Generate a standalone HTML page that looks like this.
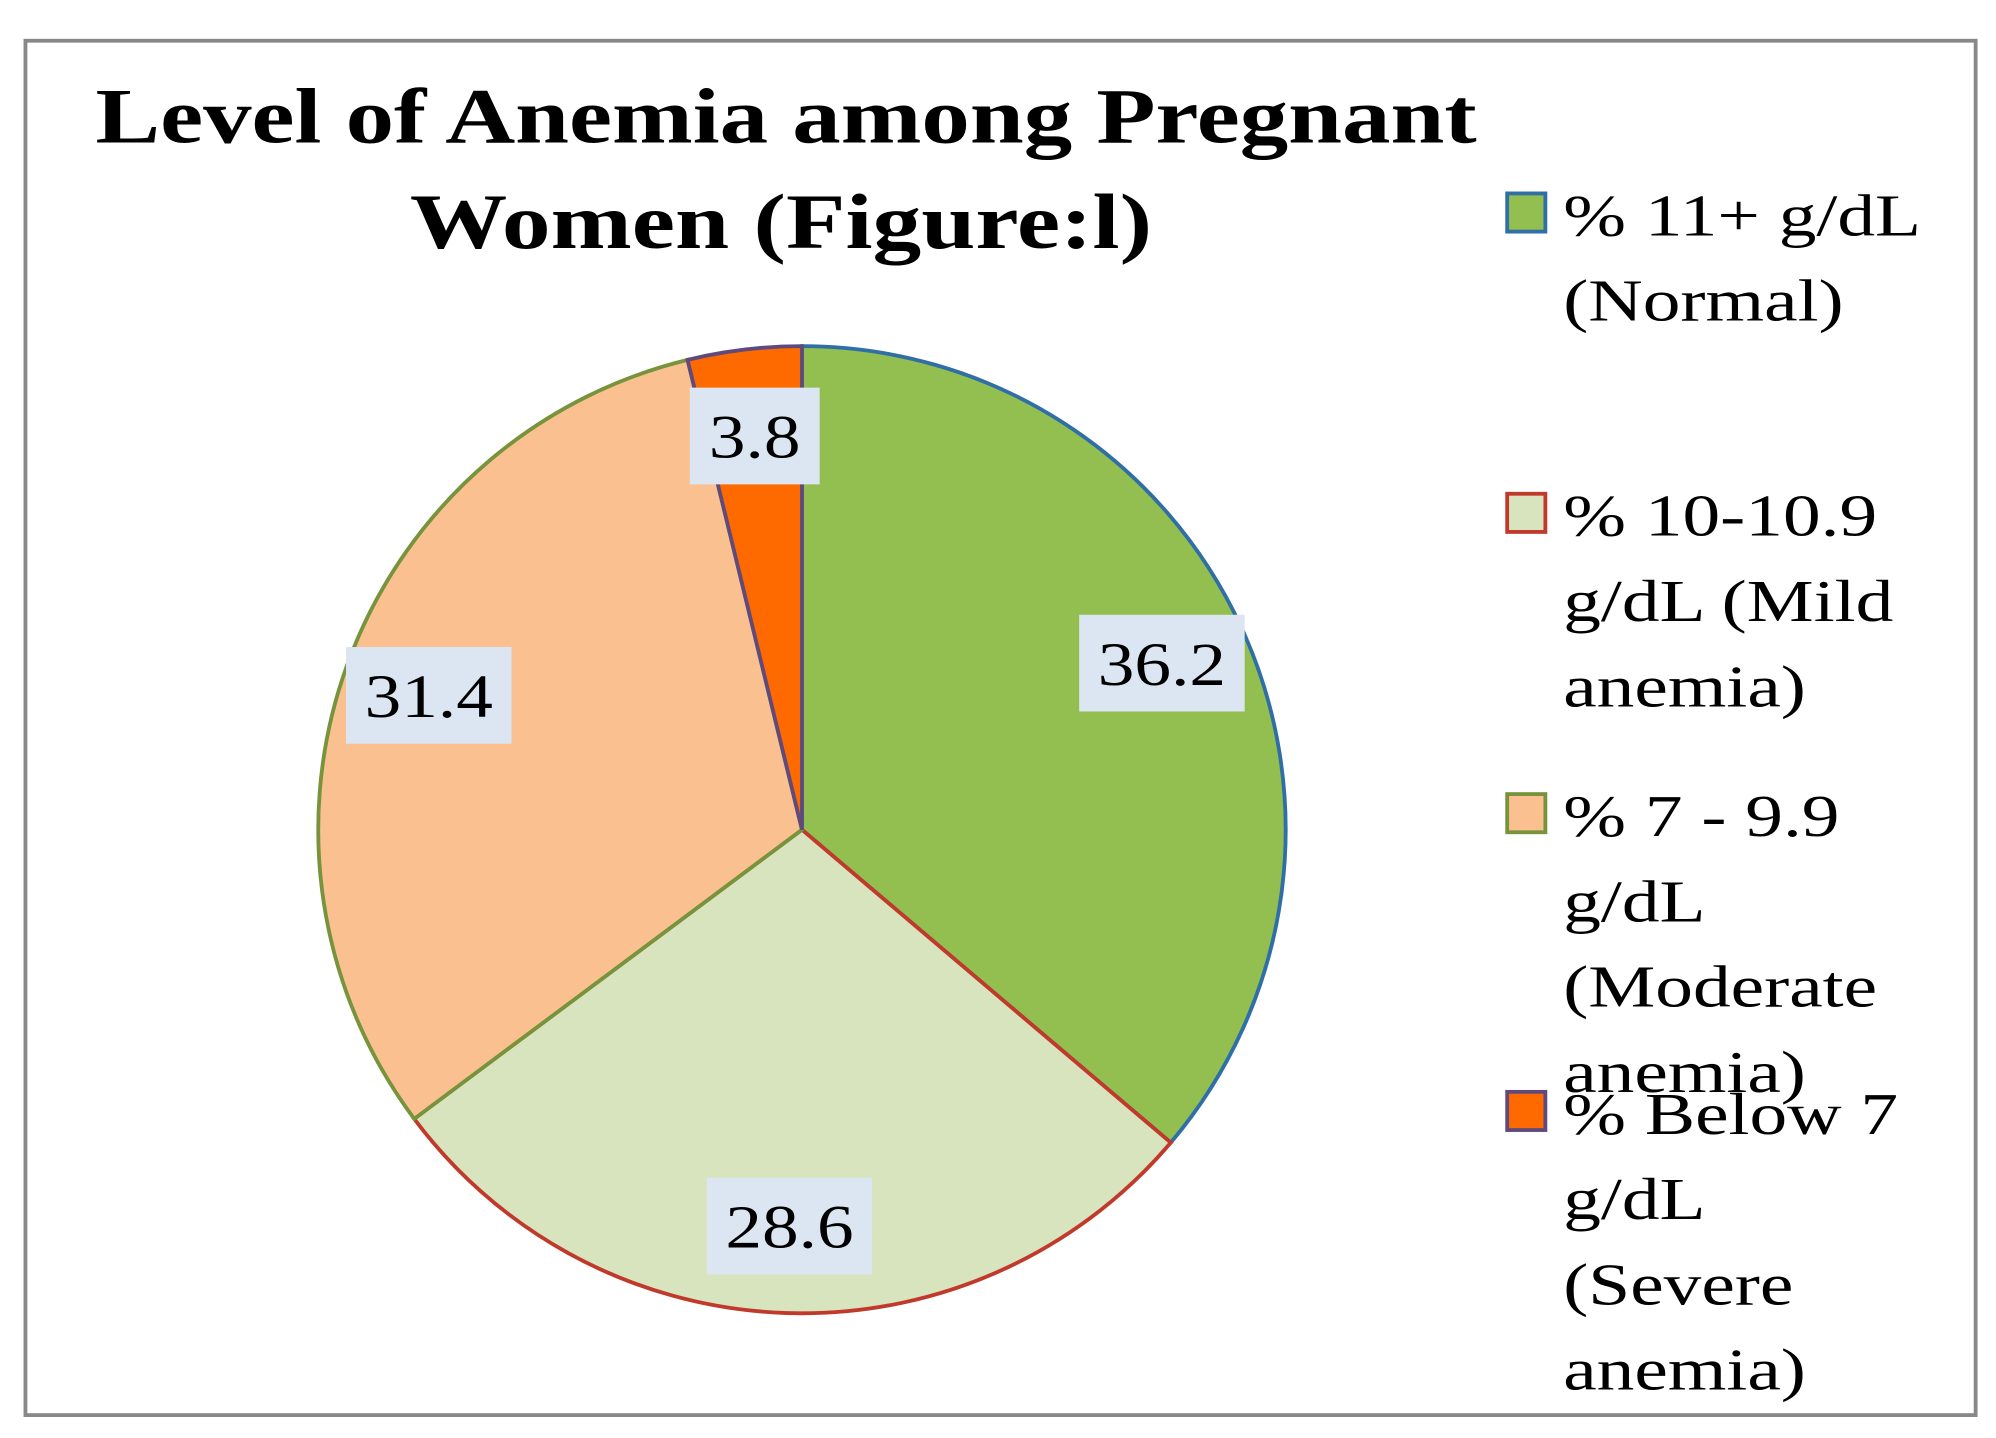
<!DOCTYPE html>
<html><head><meta charset="utf-8"><style>
html,body{margin:0;padding:0;background:#fff;}
svg{display:block;}
text{font-family:"Liberation Serif",serif;}
</style></head><body>
<svg id="chart" width="1996" height="1438" viewBox="0 0 1568 1130" preserveAspectRatio="none">
<rect x="20" y="32" width="1532" height="1080" fill="#fff" stroke="#888" stroke-width="3"/>
<text x="75" y="112" textLength="1085" lengthAdjust="spacingAndGlyphs" font-size="62" font-weight="bold">Level of Anemia among Pregnant</text>
<text x="322" y="195" textLength="583" lengthAdjust="spacingAndGlyphs" font-size="62" font-weight="bold">Women (Figure:l)</text>
<g id="slices"></g>
<g id="labels"></g>
<g id="legend"></g>
</svg>
<script>
const categories = ["% 11+ g/dL (Normal)", "% 10-10.9 g/dL (Mild anemia)", "% 7 - 9.9 g/dL (Moderate anemia)", "% Below 7 g/dL (Severe anemia)"];
const values = [36.2, 28.6, 31.4, 3.8];
const valueLabels = ["36.2", "28.6", "31.4", "3.8"];
const legendLines = [["% 11+ g/dL","(Normal)"],["% 10-10.9","g/dL (Mild","anemia)"],["% 7 - 9.9","g/dL","(Moderate","anemia)"],["% Below 7","g/dL","(Severe","anemia)"]];
const fills = ["#92BF4F","#D7E4BD","#FBC090","#FF6A00"];
const strokes = ["#2F6EA6","#C0392B","#77933C","#604A7B"];
const NS="http://www.w3.org/2000/svg";
const cx=630, cy=652, R=380;
const total = values.reduce((a,b)=>a+b,0);
function pt(a,r){return [cx+r*Math.sin(a), cy-r*Math.cos(a)];}
const sg=document.getElementById('slices'), lg=document.getElementById('labels'), leg=document.getElementById('legend');
let acc=0;
values.forEach((v,i)=>{
  const a0=acc/total*2*Math.PI; acc+=v; const a1=acc/total*2*Math.PI;
  const p0=pt(a0,R), p1=pt(a1,R);
  const large=(a1-a0)>Math.PI?1:0;
  const path=document.createElementNS(NS,'path');
  path.setAttribute('d',`M${cx},${cy} L${p0[0]},${p0[1]} A${R},${R} 0 ${large} 1 ${p1[0]},${p1[1]} Z`);
  path.setAttribute('fill',fills[i]); path.setAttribute('stroke',strokes[i]); path.setAttribute('stroke-width','3');
  
  
  sg.appendChild(path);
  const am=(a0+a1)/2, c=pt(am,R*0.82);
  const w=valueLabels[i].length>3?130:102, h=76;
  const rect=document.createElementNS(NS,'rect');
  rect.setAttribute('x',c[0]-w/2); rect.setAttribute('y',c[1]-h/2); rect.setAttribute('width',w); rect.setAttribute('height',h); rect.setAttribute('fill','#DCE6F2');
  
  
  lg.appendChild(rect);
  const t=document.createElementNS(NS,'text');
  t.setAttribute('x',c[0]); t.setAttribute('y',c[1]+17); t.setAttribute('text-anchor','middle'); t.setAttribute('font-size','48');
  t.setAttribute('transform',`translate(${c[0]},0) scale(1.2,1) translate(${-c[0]},0)`);
  t.textContent=valueLabels[i];
  
  
  lg.appendChild(t);
});
const legTops=[152,388,624,858];
categories.forEach((c,i)=>{
  const g=document.createElementNS(NS,'g');
  
  
  const r=document.createElementNS(NS,'rect');
  r.setAttribute('x',1184); r.setAttribute('y',legTops[i]); r.setAttribute('width',30); r.setAttribute('height',30);
  r.setAttribute('fill',fills[i]); r.setAttribute('stroke',strokes[i]); r.setAttribute('stroke-width','3');
  
  
  g.appendChild(r);
  legendLines[i].forEach((ln,j)=>{
    const t=document.createElementNS(NS,'text');
    t.setAttribute('x',1228); t.setAttribute('y',legTops[i]+33+j*67); t.setAttribute('font-size','47');
    t.setAttribute('transform','translate(1228,0) scale(1.26,1) translate(-1228,0)');
    t.textContent=ln;
    
    
    g.appendChild(t);
  });
  leg.appendChild(g);
});
</script>
</body></html>
